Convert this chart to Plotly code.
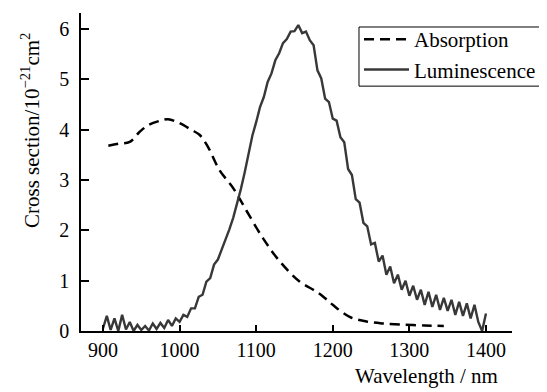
import plotly.graph_objects as go

# Luminescence (noisy measured spectrum)
lum_wl = list(range(900, 1405, 5))
lum_val = [0.05, 0.30, 0.02, 0.25, 0.00, 0.32, 0.03, 0.18, 0.00, 0.12,
           0.02, 0.10, 0.01, 0.15, 0.04, 0.16, 0.06, 0.22, 0.10, 0.25,
           0.18, 0.32, 0.28, 0.45, 0.45, 0.68, 0.72, 0.98, 1.05, 1.32,
           1.42, 1.62, 1.78, 2.02, 2.25, 2.52, 2.82, 3.15, 3.50, 3.88,
           4.15, 4.45, 4.65, 4.95, 5.12, 5.38, 5.52, 5.72, 5.80, 5.95,
           5.96, 6.08, 5.92, 5.95, 5.78, 5.68, 5.18, 5.02, 4.62, 4.55,
           4.22, 4.18, 3.85, 3.75, 3.22, 3.10, 2.62, 2.55, 2.15, 2.08,
           1.72, 1.75, 1.38, 1.50, 1.12, 1.28, 0.95, 1.12, 0.82, 1.00,
           0.70, 0.90, 0.62, 0.82, 0.52, 0.78, 0.48, 0.72, 0.42, 0.66,
           0.40, 0.62, 0.32, 0.58, 0.30, 0.55, 0.25, 0.52, 0.18, 0.00,
           0.35]

# Absorption (smooth)
abs_wl = [907, 920, 935, 948, 960, 975, 985, 1000, 1015, 1026, 1037, 1052,
          1070, 1087, 1109, 1131, 1157, 1179, 1190, 1200, 1222, 1244, 1265,
          1288, 1320, 1345]
abs_val = [3.68, 3.72, 3.76, 3.96, 4.10, 4.18, 4.21, 4.13, 4.00, 3.90, 3.66,
           3.20, 2.84, 2.40, 1.84, 1.38, 0.98, 0.78, 0.65, 0.52, 0.28, 0.19,
           0.15, 0.13, 0.11, 0.10]

x_ticks = [900, 1000, 1100, 1200, 1300, 1400]
y_ticks = [0, 1, 2, 3, 4, 5, 6]

FONT = "Liberation Serif, Times New Roman, serif"

fig = go.Figure()
fig.add_trace(go.Scatter(
    x=abs_wl, y=abs_val, mode="lines", name="Absorption",
    line=dict(color="black", width=2.5, dash="10px,6px", shape="spline"),
))
fig.add_trace(go.Scatter(
    x=lum_wl, y=lum_val, mode="lines", name="Luminescence",
    line=dict(color="#383838", width=2.4),
))

# page body has an 8px margin, so the figure is offset by (8, 8)
fig.update_layout(
    width=539, height=384,
    margin=dict(l=73, r=35, t=5, b=61),
    paper_bgcolor="white", plot_bgcolor="white",
    font=dict(family=FONT, size=20, color="black"),
    showlegend=True,
    legend=dict(
        x=0.645, y=0.981, xanchor="left", yanchor="top",
        borderwidth=0, bgcolor="rgba(0,0,0,0)",
        font=dict(family=FONT, size=21, color="black"),
        tracegroupgap=0, itemwidth=45,
    ),
    shapes=[
        dict(type="rect", xref="paper", yref="paper",
             x0=0.645, x1=1.079, y0=0.770, y1=0.956,
             line=dict(color="black", width=1), fillcolor="rgba(0,0,0,0)",
             layer="above"),
    ],
    xaxis=dict(
        range=[871.3, 1434], tickvals=x_ticks, ticktext=[str(v) for v in x_ticks],
        showline=True, linecolor="black", linewidth=1.5,
        ticks="inside", ticklen=6, tickcolor="black", tickwidth=1.5,
        showgrid=False, zeroline=False,
        tickfont=dict(family=FONT, size=20, color="black"),
    ),
    yaxis=dict(
        range=[0, 6.32], tickvals=y_ticks, ticktext=[str(v) for v in y_ticks],
        showline=True, linecolor="black", linewidth=1.5,
        ticks="inside", ticklen=8, tickcolor="black", tickwidth=1.5,
        showgrid=False, zeroline=False,
        tickfont=dict(family=FONT, size=20, color="black"),
        ticklabelstandoff=6,
    ),
    annotations=[
        dict(text="Cross section/10<sup>−21</sup>cm<sup>2</sup>",
             xref="paper", yref="paper", x=-0.116, y=0.629,
             xanchor="center", yanchor="middle", textangle=-90,
             showarrow=False, font=dict(family=FONT, size=21, color="black")),
        dict(text="Wavelength / nm",
             xref="paper", yref="paper", x=0.972, y=-0.14,
             xanchor="right", yanchor="middle",
             showarrow=False, font=dict(family=FONT, size=21, color="black")),
    ],
)

fig.write_html("out.html")
